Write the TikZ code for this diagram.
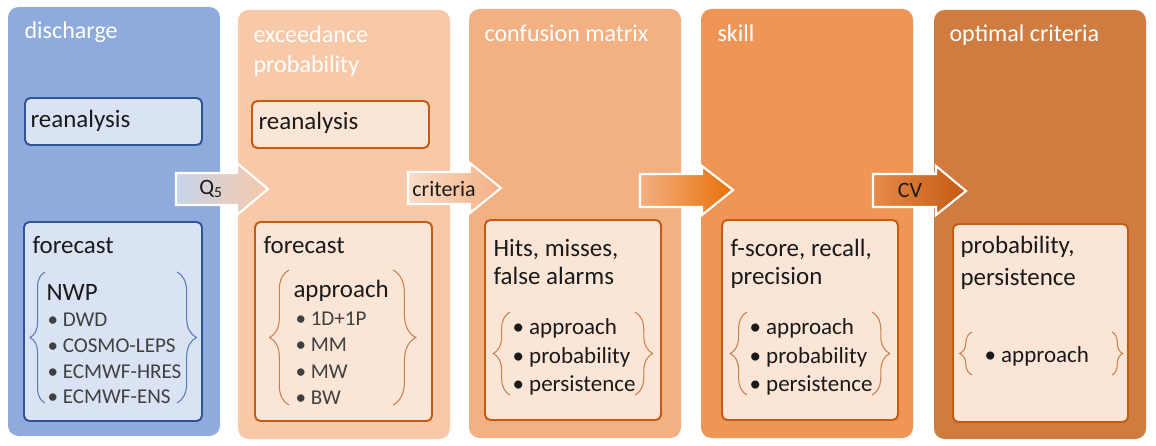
\documentclass[tikz,border=0pt]{standalone}
\usepackage{fontspec}
\setmainfont{Carlito}
\usepackage{tikz}
\usetikzlibrary{decorations.pathreplacing}
\definecolor{panelblue}{HTML}{8FAADC}
\definecolor{boxblue}{HTML}{DAE3F3}
\definecolor{lineblue}{HTML}{2F5597}
\definecolor{braceblue}{HTML}{5B78B8}
\definecolor{panelpeach}{HTML}{F7C9A8}
\definecolor{panelsand}{HTML}{F3B083}
\definecolor{panelorange}{HTML}{EF9657}
\definecolor{panelrust}{HTML}{D07C40}
\definecolor{boxpeach}{HTML}{FBE5D6}
\definecolor{lineorange}{HTML}{C55A11}
\definecolor{braceorange}{HTML}{C8814F}
\definecolor{ink}{HTML}{1A1A1A}
\definecolor{itemgray}{HTML}{404040}

\begin{document}
\begin{tikzpicture}[x=0.02cm, y=-0.02cm, line width=0.6pt,
  panel/.style={rounded corners=6pt},
  innerbox/.style={rounded corners=3pt, line width=1.1pt},
  arrowbox/.style={draw=white, line width=1.2pt},
  title/.style={anchor=base west, inner sep=0pt, text=white, font=\fontsize{13.7pt}{16pt}\selectfont},
  big/.style={anchor=base west, inner sep=0pt, text=ink, font=\fontsize{14.2pt}{17pt}\selectfont},
  mid/.style={anchor=base west, inner sep=0pt, text=ink, font=\fontsize{13.1pt}{16pt}\selectfont},
  item/.style={anchor=base west, inner sep=0pt, text=itemgray, font=\fontsize{12pt}{14pt}\selectfont},
  arrowlabel/.style={inner sep=0pt, text=ink, font=\fontsize{12.5pt}{15pt}\selectfont},
  lbrace/.style={decorate, decoration={brace, amplitude=#1}},
  lbrace/.default=8pt]

\useasboundingbox (0,0) rectangle (1156,446);

% the five columns
\foreach \x/\y/\col in {8/7/panelblue, 238/10/panelpeach, 469/9/panelsand,
                        701/9/panelorange, 934/10/panelrust}{
  \fill[panel, \col] (\x,\y) rectangle ({\x+212},{\y+429});
}

% block arrows between the columns
\draw[arrowbox, left color=boxblue!75!panelblue, right color=panelpeach]
  (176,173) -- (237,173) -- (237,163) -- (268,189) -- (237,215) -- (237,205) -- (176,205) -- cycle;
\draw[arrowbox, left color=boxpeach!70!panelpeach, right color=panelsand]
  (408,172) -- (470,172) -- (470,163) -- (501,188) -- (470,213) -- (470,204) -- (408,204) -- cycle;
\draw[arrowbox, left color=panelsand, right color=orange!60!lineorange]
  (640,174) -- (702,174) -- (702,166) -- (733,190) -- (702,215) -- (702,207) -- (640,207) -- cycle;
\draw[arrowbox, left color=panelorange!80!lineorange, right color=lineorange]
  (873,174) -- (936,174) -- (936,166) -- (966,191) -- (936,215) -- (936,207) -- (873,207) -- cycle;
\node[arrowlabel] (q5) at (211,189) {Q\textsubscript{5}};
\node[arrowlabel] (crit) at (444,189) {criteria};
\node[arrowlabel] (cv) at (910,190) {CV};

% column titles
\node[title] (ttl1) at (24,39) {discharge};
\node[title] (ttl2a) at (253,43) {exceedance};
\node[title] (ttl2b) at (253,72) {probability};
\node[title] (ttl3) at (484,42) {confusion matrix};
\node[title] (ttl4) at (717,42) {skill};
\node[title] (ttl5) at (949,42) {optimal criteria};

% discharge
\draw[innerbox, fill=boxblue, draw=lineblue] (25,98) rectangle (202,145);
\node[big] (rea1) at (30,128) {reanalysis};
\draw[innerbox, fill=boxblue, draw=lineblue] (24,222) rectangle (202,421);
\node[big] (fc1) at (32,253) {forecast};
\node[big] (nwp) at (46,300) {NWP};
\foreach \lab [count=\i] in {DWD, COSMO-LEPS, ECMWF-HRES, ECMWF-ENS}
  \node[item] (nwp\i) at (47,{301+25.7*\i}) {\textbullet\ \lab};
\draw[lbrace=8.5pt, braceblue] (45,403) -- (45,272);
\draw[lbrace=11pt, braceblue] (177,272) -- (177,403);

% exceedance probability
\draw[innerbox, fill=boxpeach, draw=lineorange] (252,101) rectangle (429,148);
\node[big] (rea2) at (258,130) {reanalysis};
\draw[innerbox, fill=boxpeach, draw=lineorange] (255,222) rectangle (432,421);
\node[big] (fc2) at (263,253) {forecast};
\node[big] (appr) at (293,297) {approach};
\foreach \lab [count=\i] in {1D+1P, MM, MW, BW}
  \node[item] (appr\i) at (295,{299+26.4*\i}) {\textbullet\ \lab};
\draw[lbrace=11pt, braceorange] (289,405) -- (289,270);
\draw[lbrace=13pt, braceorange] (393,270) -- (393,405);

% confusion matrix and skill
\foreach \x/\k/\one/\two in {485/cm/{Hits, misses,}/{false alarms}, 722/sk/{f-score, recall,}/precision}{
  \draw[innerbox, fill=boxpeach, draw=lineorange] (\x,220) rectangle ({\x+176},420);
  \node[big] (\k a) at ({\x+8},256) {\one};
  \node[big] (\k b) at ({\x+8},284) {\two};
  \foreach \lab [count=\i] in {approach, probability, persistence}
    \node[mid] (\k\i) at ({\x+27},{306+28.5*\i}) {\textbullet\ \lab};
  \draw[lbrace=9.5pt, braceorange] ({\x+25},395) -- ({\x+25},312);
  \draw[lbrace=10pt, braceorange] ({\x+150},312) -- ({\x+150},395);
}

% optimal criteria
\draw[innerbox, fill=boxpeach, draw=lineorange] (953,224) rectangle (1128,422);
\node[big] (opta) at (960,253) {probability,};
\node[big] (optb) at (960,285) {persistence};
\node[mid] (opt1) at (984,362) {\textbullet\ approach};
\draw[lbrace=7pt, braceorange] (972,375) -- (972,332);
\draw[lbrace=6pt, braceorange] (1112,332) -- (1112,375);

\end{tikzpicture}
\end{document}
